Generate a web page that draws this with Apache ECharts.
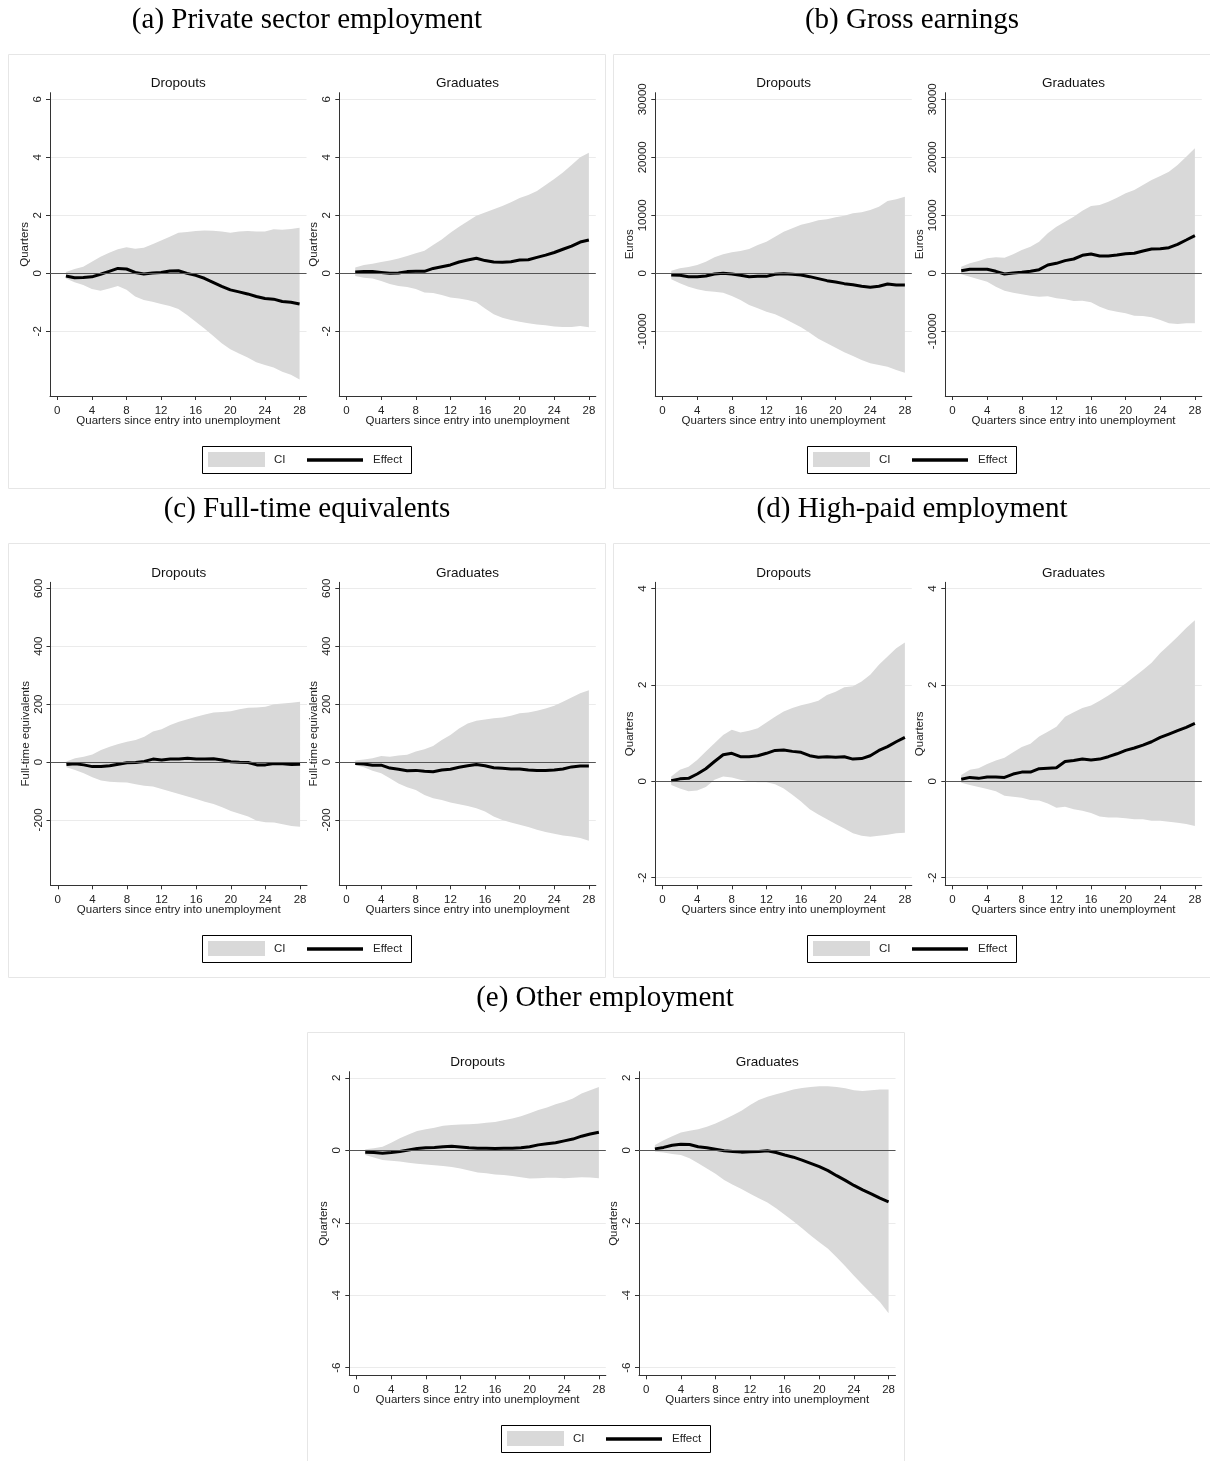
<!DOCTYPE html>
<html>
<head>
<meta charset="utf-8">
<script src="https://cdn.jsdelivr.net/npm/echarts@6/dist/echarts.min.js"></script>
<style>
  html, body { margin: 0; padding: 0; background: #fff; }
  #main { width: 1210px; height: 1461px; }
</style>
</head>
<body>
<div id="main"></div>
<script>
// quarters since entry into unemployment
var quarters = [1, 2, 3, 4, 5, 6, 7, 8, 9, 10, 11, 12, 13, 14, 15, 16, 17, 18, 19, 20, 21, 22, 23, 24, 25, 26, 27, 28];
var xTicks = [0, 4, 8, 12, 16, 20, 24, 28];

// (a) private sector employment
var aTicks = [-2, 0, 2, 4, 6];
var aDropEff = [-0.09, -0.15, -0.14, -0.12, -0.03, 0.07, 0.17, 0.15, 0.03, -0.02, 0.01, 0.03, 0.08, 0.09, 0, -0.07, -0.17, -0.31, -0.45, -0.57, -0.64, -0.71, -0.8, -0.87, -0.89, -0.97, -1.0, -1.06];
var aDropHi = [0.05, 0.15, 0.23, 0.4, 0.57, 0.71, 0.83, 0.9, 0.85, 0.88, 1.0, 1.13, 1.26, 1.4, 1.43, 1.46, 1.48, 1.47, 1.44, 1.4, 1.44, 1.46, 1.44, 1.44, 1.52, 1.5, 1.53, 1.57];
var aDropLo = [-0.18, -0.31, -0.4, -0.54, -0.6, -0.52, -0.44, -0.57, -0.8, -0.92, -0.98, -1.06, -1.13, -1.23, -1.44, -1.67, -1.9, -2.15, -2.41, -2.62, -2.76, -2.9, -3.07, -3.16, -3.25, -3.39, -3.5, -3.66];
var aGradEff = [0.05, 0.06, 0.06, 0.03, 0, 0.01, 0.06, 0.07, 0.07, 0.17, 0.23, 0.29, 0.39, 0.46, 0.52, 0.44, 0.39, 0.38, 0.4, 0.46, 0.47, 0.55, 0.63, 0.72, 0.83, 0.94, 1.08, 1.15];
var aGradHi = [0.2, 0.29, 0.33, 0.39, 0.44, 0.51, 0.6, 0.69, 0.78, 0.98, 1.17, 1.4, 1.61, 1.8, 1.99, 2.1, 2.21, 2.32, 2.45, 2.6, 2.7, 2.84, 3.05, 3.25, 3.48, 3.74, 4.0, 4.16];
var aGradLo = [-0.09, -0.15, -0.18, -0.26, -0.37, -0.44, -0.47, -0.54, -0.66, -0.68, -0.75, -0.83, -0.87, -0.92, -1.0, -1.21, -1.41, -1.53, -1.61, -1.67, -1.72, -1.76, -1.79, -1.83, -1.85, -1.85, -1.82, -1.86];

// (b) gross earnings
var bTicks = [-10000, 0, 10000, 20000, 30000];
var bDropEff = [-290, -345, -575, -575, -460, -115, 0, -115, -345, -575, -520, -520, -170, -60, -170, -290, -575, -920, -1265, -1495, -1780, -1955, -2240, -2415, -2240, -1840, -2010, -2010];
var bDropHi = [460, 860, 1090, 1435, 2010, 2760, 3275, 3620, 3850, 4195, 4885, 5460, 6320, 7185, 7760, 8390, 8735, 9140, 9310, 9655, 9940, 10345, 10515, 10920, 11495, 12470, 12760, 13220];
var bDropLo = [-1035, -1725, -2300, -2760, -3045, -3160, -3335, -3910, -4600, -5460, -6035, -6610, -7070, -7760, -8505, -9310, -10230, -11265, -12070, -12815, -13620, -14255, -14940, -15520, -15800, -16090, -16665, -17125];
var bGradEff = [460, 690, 690, 690, 345, -115, 60, 170, 345, 630, 1435, 1725, 2185, 2470, 3100, 3330, 2990, 2990, 3160, 3390, 3450, 3850, 4195, 4250, 4425, 5000, 5745, 6495];
var bGradHi = [1150, 1725, 2125, 2585, 2760, 2700, 3275, 4020, 4600, 5460, 6900, 8045, 8910, 9770, 10800, 11610, 11780, 12355, 13045, 13790, 14370, 15230, 16090, 16780, 17530, 18680, 20115, 21550];
var bGradLo = [-170, -575, -1035, -1435, -2300, -2990, -3335, -3620, -3850, -4025, -3965, -4310, -4485, -4770, -4710, -5000, -5745, -6320, -6610, -6900, -7300, -7355, -7585, -8045, -8620, -8735, -8620, -8620];

// (c) full-time equivalents
var cTicks = [-200, 0, 200, 400, 600];
var cDropEff = [-9, -6, -10, -16, -16, -13, -8, -3, -2, 2, 10, 7, 10, 10, 13, 10, 10, 11, 7, 1, -1, -2, -10, -10, -5, -6, -9, -8];
var cDropHi = [2, 13, 18, 26, 41, 53, 62, 70, 76, 87, 105, 113, 128, 139, 148, 156, 164, 171, 173, 175, 182, 187, 188, 191, 199, 202, 205, 208];
var cDropLo = [-18, -28, -39, -53, -64, -68, -70, -71, -77, -82, -85, -93, -102, -111, -119, -128, -137, -145, -156, -169, -179, -188, -203, -208, -209, -215, -221, -224];
var cGradEff = [-5, -7, -11, -11, -21, -25, -30, -29, -32, -34, -28, -25, -18, -13, -9, -13, -20, -22, -24, -24, -28, -29, -29, -28, -24, -17, -14, -14];
var cGradHi = [5, 9, 13, 21, 18, 22, 25, 36, 44, 55, 76, 93, 116, 133, 142, 147, 151, 154, 160, 168, 171, 177, 185, 194, 208, 223, 237, 248];
var cGradLo = [-10, -18, -30, -39, -56, -74, -87, -97, -114, -125, -131, -140, -146, -152, -160, -171, -188, -200, -209, -217, -225, -234, -242, -248, -254, -257, -263, -272];

// (d) high-paid employment
var dTicks = [-2, 0, 2, 4];
var dDropEff = [0.01, 0.05, 0.06, 0.15, 0.26, 0.41, 0.55, 0.58, 0.51, 0.51, 0.53, 0.58, 0.64, 0.65, 0.62, 0.6, 0.53, 0.5, 0.51, 0.5, 0.51, 0.46, 0.47, 0.53, 0.64, 0.72, 0.82, 0.91];
var dDropHi = [0.1, 0.24, 0.3, 0.44, 0.62, 0.79, 0.96, 1.07, 1.01, 1.05, 1.1, 1.22, 1.34, 1.45, 1.52, 1.58, 1.62, 1.67, 1.79, 1.86, 1.95, 1.97, 2.07, 2.21, 2.42, 2.59, 2.76, 2.88];
var dDropLo = [-0.08, -0.15, -0.21, -0.19, -0.12, 0.03, 0.1, 0.08, 0.03, 0, -0.02, -0.02, -0.06, -0.15, -0.28, -0.42, -0.58, -0.69, -0.79, -0.89, -0.98, -1.08, -1.13, -1.15, -1.13, -1.11, -1.08, -1.07];
var dGradEff = [0.04, 0.08, 0.06, 0.09, 0.09, 0.08, 0.15, 0.19, 0.19, 0.26, 0.27, 0.28, 0.41, 0.43, 0.46, 0.44, 0.46, 0.51, 0.57, 0.64, 0.69, 0.75, 0.82, 0.91, 0.98, 1.05, 1.12, 1.2];
var dGradHi = [0.13, 0.24, 0.27, 0.36, 0.43, 0.49, 0.6, 0.71, 0.78, 0.93, 1.03, 1.13, 1.34, 1.43, 1.52, 1.57, 1.67, 1.78, 1.9, 2.03, 2.17, 2.31, 2.46, 2.66, 2.83, 3.0, 3.18, 3.34];
var dGradLo = [-0.03, -0.08, -0.12, -0.16, -0.21, -0.3, -0.32, -0.34, -0.39, -0.4, -0.46, -0.55, -0.53, -0.58, -0.61, -0.66, -0.73, -0.75, -0.75, -0.77, -0.79, -0.79, -0.82, -0.82, -0.84, -0.86, -0.89, -0.93];

// (e) other employment
var eTicks = [-6, -4, -2, 0, 2];
var eDropEff = [-0.05, -0.06, -0.08, -0.06, -0.03, 0.01, 0.05, 0.07, 0.08, 0.1, 0.11, 0.09, 0.07, 0.06, 0.06, 0.05, 0.06, 0.06, 0.07, 0.1, 0.15, 0.18, 0.21, 0.26, 0.31, 0.39, 0.45, 0.5];
var eDropHi = [0.03, 0.06, 0.1, 0.21, 0.33, 0.44, 0.53, 0.58, 0.62, 0.68, 0.7, 0.71, 0.72, 0.73, 0.76, 0.78, 0.83, 0.88, 0.94, 1.02, 1.11, 1.18, 1.27, 1.34, 1.43, 1.57, 1.66, 1.75];
var eDropLo = [-0.13, -0.2, -0.27, -0.29, -0.31, -0.34, -0.37, -0.39, -0.41, -0.43, -0.46, -0.5, -0.56, -0.61, -0.63, -0.67, -0.68, -0.71, -0.74, -0.78, -0.77, -0.76, -0.76, -0.77, -0.76, -0.74, -0.75, -0.77];
var eGradEff = [0.04, 0.08, 0.14, 0.17, 0.16, 0.1, 0.07, 0.03, -0.01, -0.03, -0.05, -0.04, -0.03, -0.01, -0.06, -0.13, -0.19, -0.27, -0.36, -0.45, -0.56, -0.7, -0.83, -0.97, -1.09, -1.2, -1.32, -1.42];
var eGradHi = [0.15, 0.28, 0.39, 0.49, 0.54, 0.58, 0.65, 0.74, 0.85, 0.97, 1.09, 1.25, 1.39, 1.48, 1.55, 1.61, 1.68, 1.72, 1.75, 1.77, 1.77, 1.75, 1.71, 1.66, 1.64, 1.66, 1.68, 1.68];
var eGradLo = [-0.04, -0.06, -0.1, -0.13, -0.22, -0.36, -0.5, -0.65, -0.82, -0.95, -1.07, -1.2, -1.32, -1.44, -1.6, -1.78, -1.96, -2.15, -2.35, -2.54, -2.72, -2.95, -3.2, -3.46, -3.71, -3.95, -4.19, -4.5];

// layout of the five panels (pixels)
var panels = [
  { title: '(a) Private sector employment', tx: 307, ty: 20, frame: [8, 54, 597, 434], legend: [202, 446],
    yName: 'Quarters', yMin: -4.23, yMax: 6.23, yTicks: aTicks, top: 92.7, height: 303.3,
    subs: [{ label: 'Dropouts', left: 50, lo: aDropLo, hi: aDropHi, eff: aDropEff },
           { label: 'Graduates', left: 339.3, lo: aGradLo, hi: aGradHi, eff: aGradEff }] },
  { title: '(b) Gross earnings', tx: 912, ty: 20, frame: [613, 54, 597, 434], legend: [807, 446],
    yName: 'Euros', yMin: -21150, yMax: 31140, yTicks: bTicks, top: 92.7, height: 303.3,
    subs: [{ label: 'Dropouts', left: 655.3, lo: bDropLo, hi: bDropHi, eff: bDropEff },
           { label: 'Graduates', left: 945.3, lo: bGradLo, hi: bGradHi, eff: bGradEff }] },
  { title: '(c) Full-time equivalents', tx: 307, ty: 509, frame: [8, 543, 597, 434], legend: [202, 935],
    yName: 'Full-time equivalents', yMin: -426, yMax: 620.7, yTicks: cTicks, top: 582.3, height: 303,
    subs: [{ label: 'Dropouts', left: 50.5, lo: cDropLo, hi: cDropHi, eff: cDropEff },
           { label: 'Graduates', left: 339.3, lo: cGradLo, hi: cGradHi, eff: cGradEff }] },
  { title: '(d) High-paid employment', tx: 912, ty: 509, frame: [613, 543, 597, 434], legend: [807, 935],
    yName: 'Quarters', yMin: -2.16, yMax: 4.13, yTicks: dTicks, top: 582.3, height: 303,
    subs: [{ label: 'Dropouts', left: 655.3, lo: dDropLo, hi: dDropHi, eff: dDropEff },
           { label: 'Graduates', left: 945.3, lo: dGradLo, hi: dGradHi, eff: dGradEff }] },
  { title: '(e) Other employment', tx: 605, ty: 998, frame: [307, 1032, 597, 440], legend: [501, 1425],
    yName: 'Quarters', yMin: -6.21, yMax: 2.17, yTicks: eTicks, top: 1071.7, height: 303.6,
    subs: [{ label: 'Dropouts', left: 349.3, lo: eDropLo, hi: eDropHi, eff: eDropEff },
           { label: 'Graduates', left: 639, lo: eGradLo, hi: eGradHi, eff: eGradEff }] }
];

var font = '"Liberation Sans", Arial, sans-serif';
var plotW = 256.5;
var axisColor = '#333';
var textColor = '#222';
var bandColor = '#d9d9d9';

var grids = [], xAxes = [], yAxes = [], series = [], graphics = [];

function pairs(ys) {
  return quarters.map(function (q, k) { return [q, ys[k]]; });
}

// confidence band: one polygon through upper bounds, back along lower bounds
function bandRenderer(lo, hi) {
  return function (params, api) {
    if (params.dataIndex !== 0) return null;
    var upper = [], lower = [];
    quarters.forEach(function (q, k) {
      upper.push(api.coord([q, hi[k]]));
      lower.unshift(api.coord([q, lo[k]]));
    });
    return { type: 'polygon', shape: { points: upper.concat(lower) }, style: { fill: bandColor } };
  };
}

function legendBox(x, y) {
  return [
    { type: 'rect', silent: true, shape: { x: x + 0.5, y: y + 0.5, width: 209, height: 27 },
      style: { fill: '#fff', stroke: '#000', lineWidth: 1 } },
    { type: 'rect', silent: true, shape: { x: x + 6, y: y + 6, width: 57, height: 15 },
      style: { fill: bandColor } },
    { type: 'text', silent: true, x: x + 72, y: y + 14,
      style: { text: 'CI', fontSize: 11.5, fontFamily: font, fill: textColor, align: 'left', verticalAlign: 'middle' } },
    { type: 'line', silent: true, shape: { x1: x + 105, y1: y + 14, x2: x + 161, y2: y + 14 },
      style: { stroke: '#000', lineWidth: 3.5 } },
    { type: 'text', silent: true, x: x + 171, y: y + 14,
      style: { text: 'Effect', fontSize: 11.5, fontFamily: font, fill: textColor, align: 'left', verticalAlign: 'middle' } }
  ];
}

panels.forEach(function (p) {
  graphics.push({
    type: 'rect', z: -10, silent: true,
    shape: { x: p.frame[0] + 0.5, y: p.frame[1] + 0.5, width: p.frame[2], height: p.frame[3] },
    style: { fill: 'none', stroke: '#e6e6e6', lineWidth: 1 }
  });
  graphics.push({
    type: 'text', x: p.tx, y: p.ty, silent: true,
    style: { text: p.title, fontSize: 29, fontFamily: '"Liberation Serif", "Times New Roman", serif',
             fill: '#000', align: 'center', verticalAlign: 'middle' }
  });
  graphics = graphics.concat(legendBox(p.legend[0], p.legend[1]));

  p.subs.forEach(function (s) {
    var i = grids.length;
    grids.push({ left: s.left, top: p.top, width: plotW, height: p.height, outerBoundsMode: 'none' });
    graphics.push({
      type: 'text', x: s.left + plotW / 2, y: p.top - 9.5, silent: true,
      style: { text: s.label, fontSize: 13.5, fontFamily: font, fill: '#111', align: 'center', verticalAlign: 'middle' }
    });

    xAxes.push({
      gridIndex: i, type: 'value', min: -0.84, max: 28.8,
      name: 'Quarters since entry into unemployment', nameLocation: 'middle', nameGap: 19, nameMoveOverlap: false,
      nameTextStyle: { fontSize: 11.5, color: textColor, fontFamily: font },
      axisLine: { show: true, onZero: false, lineStyle: { color: axisColor, width: 1 } },
      axisTick: { show: true, length: 4, customValues: xTicks, lineStyle: { color: axisColor } },
      axisLabel: { customValues: xTicks, margin: 9, fontSize: 11.5, color: textColor, fontFamily: font },
      splitLine: { show: false }
    });

    yAxes.push({
      gridIndex: i, type: 'value', min: p.yMin, max: p.yMax,
      name: p.yName, nameLocation: 'middle', nameGap: 19, nameMoveOverlap: false,
      nameTextStyle: { fontSize: 11.5, color: textColor, fontFamily: font },
      axisLine: { show: true, onZero: false, lineStyle: { color: axisColor, width: 1 } },
      axisTick: { show: true, length: 4, customValues: p.yTicks, lineStyle: { color: axisColor } },
      axisLabel: { customValues: p.yTicks, rotate: 90, margin: 6, fontSize: 11.5, color: textColor, fontFamily: font,
                   formatter: function (v) { return String(v); } },
      splitLine: { show: true, lineStyle: { color: '#ebebeb', width: 1 } }
    });

    series.push({
      name: 'CI', type: 'custom', xAxisIndex: i, yAxisIndex: i, silent: true, z: 2,
      itemStyle: { color: bandColor },
      encode: { x: 0, y: [1, 2] },
      renderItem: bandRenderer(s.lo, s.hi),
      data: quarters.map(function (q, k) { return [q, s.lo[k], s.hi[k]]; })
    });
    series.push({
      name: 'Effect', type: 'line', xAxisIndex: i, yAxisIndex: i, z: 4,
      symbol: 'none', silent: true,
      itemStyle: { color: '#000' },
      lineStyle: { color: '#000', width: 3 },
      markLine: {
        silent: true, symbol: 'none', label: { show: false }, animation: false,
        lineStyle: { color: '#555', width: 1, type: 'solid' },
        data: [{ yAxis: 0 }]
      },
      data: pairs(s.eff)
    });
  });
});

var chart = echarts.init(document.getElementById('main'), null, { renderer: 'canvas' });
chart.setOption({
  animation: false,
  backgroundColor: '#fff',
  grid: grids,
  xAxis: xAxes,
  yAxis: yAxes,
  graphic: graphics,
  series: series
});
</script>
</body>
</html>
